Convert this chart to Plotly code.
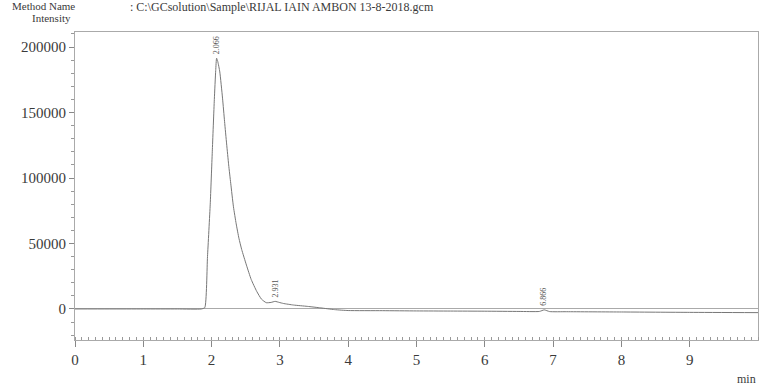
import plotly.graph_objects as go

# Chromatogram trace (time in min, intensity)
time_min = [0.0, 0.5, 1.0, 1.5, 1.85, 1.90, 1.94, 1.98, 2.01, 2.04, 2.06, 2.073,
            2.09, 2.12, 2.16, 2.19, 2.22, 2.25, 2.28, 2.32, 2.36, 2.40, 2.44, 2.51,
            2.58, 2.66, 2.73, 2.80, 2.87, 2.93, 2.99, 3.05, 3.2, 3.4, 3.6, 3.8,
            4.0, 4.5, 5.0, 5.5, 6.0, 6.5, 6.8, 6.87, 6.95, 7.2, 8.0, 9.0, 10.0]
intensity = [0, 0, 0, 0, 0, 1000, 40000, 80000, 120000, 160000, 182000, 191500,
             189000, 181000, 161000, 143000, 126000, 110000, 96000, 78000, 65000,
             54000, 45500, 33500, 22500, 13500, 7500, 4800, 5000, 5800, 5000, 4200,
             3000, 2000, 800, -500, -1200, -1300, -1500, -1600, -1700, -1900,
             -1900, -700, -2000, -2100, -2300, -2600, -2800]

# Peak labels
peak_times = [2.066, 2.931, 6.866]
peak_heights = [191500, 5800, -700]
peak_labels = ["2.066", "2.931", "6.866"]

x_ticks = [0, 1, 2, 3, 4, 5, 6, 7, 8, 9]
y_ticks = [0, 50000, 100000, 150000, 200000]
y_tick_text = ["0", "50000", "100000", "150000", "200000"]

serif = "Liberation Serif"
ink = "#3a3a3a"

fig = go.Figure()
fig.add_trace(go.Scatter(x=time_min, y=intensity, mode="lines",
                         line=dict(color="#777777", width=1, shape="spline",
                                   smoothing=0.5),
                         hoverinfo="skip", showlegend=False))

for t, h, lab in zip(peak_times, peak_heights, peak_labels):
    fig.add_annotation(x=t, y=h, text=lab, textangle=-90, showarrow=False,
                       xanchor="center", yanchor="bottom", yshift=2,
                       font=dict(family=serif, size=8, color="#555555"))

fig.add_annotation(xref="paper", yref="paper", x=-0.066, y=1.045,
                   xanchor="left", yanchor="middle", text="Intensity",
                   showarrow=False, font=dict(family=serif, size=11, color=ink))
fig.add_annotation(xref="paper", yref="paper", x=1.0, y=-0.128,
                   xanchor="right", yanchor="middle", text="min",
                   showarrow=False, font=dict(family=serif, size=12, color=ink))
fig.add_annotation(xref="paper", yref="paper", x=0.0776, y=1.081,
                   xanchor="left", yanchor="middle",
                   text=": C:\\GCsolution\\Sample\\RIJAL IAIN AMBON 13-8-2018.gcm",
                   showarrow=False, font=dict(family=serif, size=12, color=ink))
fig.add_annotation(xref="paper", yref="paper", x=-0.095, y=1.085,
                   xanchor="left", yanchor="middle", text="Method Name",
                   showarrow=False, font=dict(family=serif, size=11, color=ink))

fig.update_xaxes(range=[0, 10], tickvals=x_ticks, ticks="outside", ticklen=6,
                 tickcolor="#888888", showline=True, linecolor="#aaaaaa",
                 linewidth=1, mirror=True, showgrid=False, zeroline=False,
                 tickfont=dict(family=serif, size=15, color=ink),
                 minor=dict(dtick=0.1, ticks="inside", ticklen=3,
                            tickcolor="#999999", showgrid=False))
fig.update_yaxes(range=[-23700, 211500], tickvals=y_ticks, ticktext=y_tick_text,
                 ticks="outside", ticklen=5, tickcolor="#888888", showline=True,
                 linecolor="#aaaaaa", linewidth=1, mirror=True, showgrid=False,
                 zeroline=True, zerolinecolor="#aaaaaa", zerolinewidth=1,
                 tickfont=dict(family=serif, size=15, color=ink),
                 minor=dict(dtick=10000, ticks="outside", ticklen=3,
                            tickcolor="#999999", showgrid=False))

fig.update_layout(width=760, height=387, plot_bgcolor="white",
                  paper_bgcolor="white",
                  margin=dict(l=75, r=2, t=32, b=47))

fig.write_html("out.html", config={"displayModeBar": False},
               post_script="document.body.style.margin='0';document.body.style.overflow='hidden';")
